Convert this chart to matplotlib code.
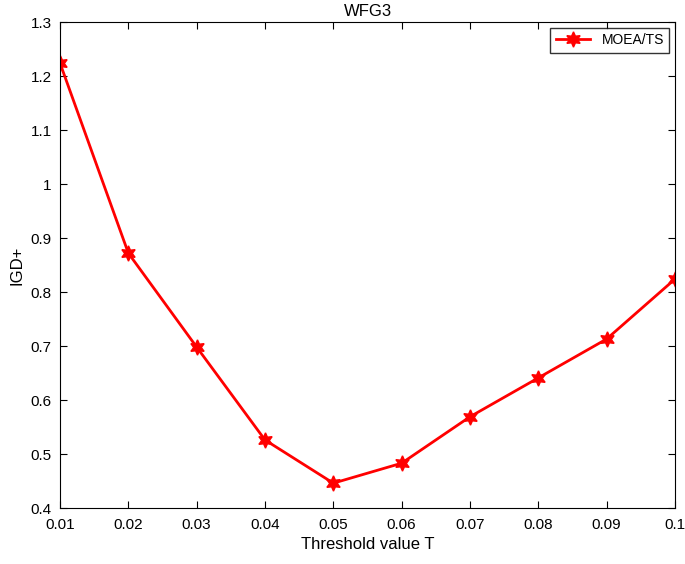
import matplotlib
matplotlib.use("Agg")
import matplotlib.pyplot as plt

thresholds = [0.01, 0.02, 0.03, 0.04, 0.05, 0.06, 0.07, 0.08, 0.09, 0.1]
igd_plus = [1.224, 0.872, 0.698, 0.526, 0.446, 0.483, 0.569, 0.641, 0.713, 0.824]
x_ticks = [0.01, 0.02, 0.03, 0.04, 0.05, 0.06, 0.07, 0.08, 0.09, 0.1]
x_tick_labels = ["0.01", "0.02", "0.03", "0.04", "0.05", "0.06", "0.07", "0.08", "0.09", "0.1"]
y_ticks = [0.4, 0.5, 0.6, 0.7, 0.8, 0.9, 1.0, 1.1, 1.2, 1.3]
y_tick_labels = ["0.4", "0.5", "0.6", "0.7", "0.8", "0.9", "1", "1.1", "1.2", "1.3"]

plt.rcParams["font.family"] = "Liberation Sans"

fig = plt.figure(figsize=(6.85, 5.64), dpi=100)
ax = fig.add_axes([60 / 685, 1 - 508 / 564, 615 / 685, 486 / 564])

ax.plot(thresholds, igd_plus, color="red", linewidth=2,
        marker=(6, 1, 0), markersize=11, markerfacecolor="red",
        markeredgecolor="red", label="MOEA/TS")

ax.set_xlim(0.01, 0.1)
ax.set_ylim(0.4, 1.3)
ax.set_xticks(x_ticks)
ax.set_xticklabels(x_tick_labels)
ax.set_yticks(y_ticks)
ax.set_yticklabels(y_tick_labels)
ax.tick_params(direction="in", labelsize=11, top=True, right=True, length=5)
ax.tick_params(axis="x", pad=7)
ax.tick_params(axis="y", pad=6)
ax.set_xlabel("Threshold value T", fontsize=12)
ax.set_ylabel("IGD+", fontsize=12)
ax.set_title("WFG3", fontsize=12, pad=4)
ax.legend(loc="upper right", fontsize=10, fancybox=False, edgecolor="black",
          handlelength=2.5, borderaxespad=0.4)

fig.savefig("out.png", dpi=100)
